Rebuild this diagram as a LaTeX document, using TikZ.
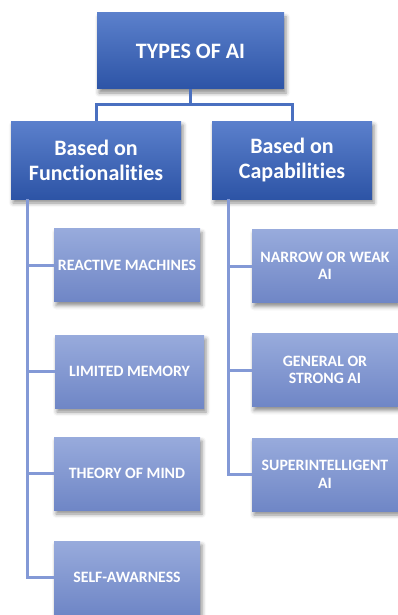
\documentclass[tikz,border=0pt]{standalone}
\usepackage{fontspec}
\setmainfont{Carlito}[Ligatures=NoCommon]
\usetikzlibrary{shadows.blur}
\definecolor{headtop}{HTML}{5B80CC}
\definecolor{headbot}{HTML}{2D54A6}
\definecolor{leaftop}{HTML}{98ABDC}
\definecolor{leafbot}{HTML}{6F86C6}
\definecolor{linkdark}{HTML}{4A70C0}
\definecolor{linklight}{HTML}{8399D6}
\tikzset{
  x=1pt, y=1pt,
  boxshade/.style={blur shadow={shadow xshift=2pt, shadow yshift=-4pt,
      shadow blur radius=4pt, shadow opacity=45}},
  headbox/.style={rectangle, boxshade, top color=headtop, bottom color=headbot,
      draw=none, text=white, align=center, inner sep=0pt,
      font=\fontsize{22}{25}\selectfont\bfseries},
  leafbox/.style={rectangle, boxshade, top color=leaftop, bottom color=leafbot,
      draw=none, text=white, align=center, inner sep=0pt,
      minimum width=146pt, minimum height=73pt,
      font=\fontsize{15.8}{17.5}\selectfont\bfseries},
  trunk/.style={draw=linkdark, line width=3pt},
  spine/.style={draw=linklight, line width=3pt},
}
\begin{document}
\begin{tikzpicture}
\useasboundingbox (0,0) rectangle (398,-615);

% root
\node[headbox, minimum width=187pt, minimum height=76pt] (root) at (190.5,-51) {TYPES OF AI};

% categories
\node[headbox, minimum width=170pt, minimum height=78pt] (func) at (96,-160) {Based on\\Functionalities};
\node[headbox, minimum width=160pt, minimum height=78pt] (capa) at (292,-160) {Based on\\Capabilities};

% functionality types
\node[leafbox] (react) at (127,-265) {REACTIVE MACHINES};
\node[leafbox, minimum width=149pt] (limit) at (129.5,-371.5) {LIMITED MEMORY};
\node[leafbox] (theory) at (127,-473.5) {THEORY OF MIND};
\node[leafbox] (self) at (127,-577.5) {SELF-AWARNESS};

% capability types
\node[leafbox] (narrow) at (325,-266) {NARROW OR WEAK\\AI};
\node[leafbox] (general) at (325,-370) {GENERAL OR\\STRONG AI};
\node[leafbox] (super) at (325,-474.5) {SUPERINTELLIGENT\\AI};

% root to categories
\coordinate (split) at (0,-105);
\draw[trunk] (root.south) -- (root.south |- split)
  (func.north) -- (func.north |- split) -- (capa.north |- split) -- (capa.north);

% spines
\coordinate (fspine) at (27,0);
\coordinate (cspine) at (228,0);
\draw[spine] (func.south -| fspine) |- (react.west);
\draw[spine] (func.south -| fspine) |- (limit.west);
\draw[spine] (func.south -| fspine) |- (theory.west);
\draw[spine] (func.south -| fspine) |- (self.west);
\draw[spine] (capa.south -| cspine) |- (narrow.west);
\draw[spine] (capa.south -| cspine) |- (general.west);
\draw[spine] (capa.south -| cspine) |- (super.west);
\end{tikzpicture}
\end{document}
